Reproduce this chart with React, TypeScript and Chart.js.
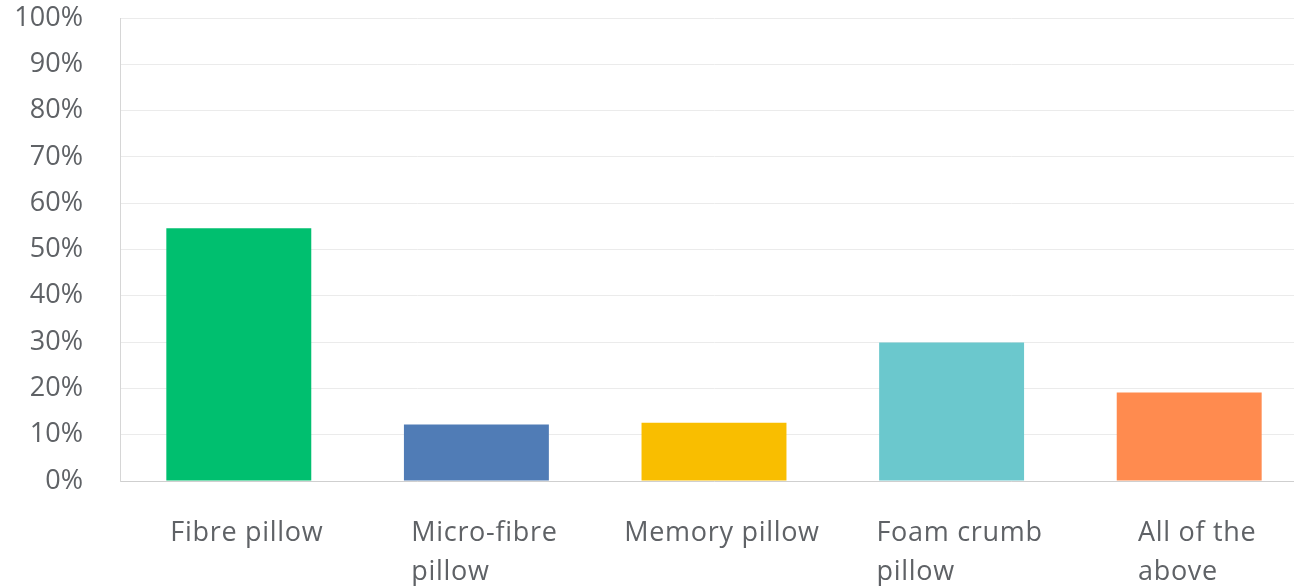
import React, { useEffect, useRef } from "react";
import { Chart, registerables } from "chart.js";

Chart.register(...registerables);

const categories: string[][] = [
  ["Fibre pillow"],
  ["Micro-fibre", "pillow"],
  ["Memory pillow"],
  ["Foam crumb", "pillow"],
  ["All of the", "above"],
];
const values: number[] = [54.6, 12.2, 12.6, 29.9, 19.1];
const barColors: string[] = ["#00bf6f", "#507cb6", "#f9be00", "#6bc8cd", "#ff8b4f"];
const yTicks: number[] = [0, 10, 20, 30, 40, 50, 60, 70, 80, 90, 100];

const FONT = "'Open Sans', sans-serif";
const TEXT = "#5f6266";

const labelPlugin = {
  id: "wrappedLabels",
  afterDraw(chart: any) {
    const ctx = chart.ctx;
    const x = chart.scales.x;
    ctx.save();
    ctx.font = `27px ${FONT}`;
    ctx.fillStyle = TEXT;
    ctx.textAlign = "left";
    ctx.textBaseline = "alphabetic";
    try { (ctx as any).letterSpacing = "0.7px"; } catch (e) {}
    categories.forEach((lines, i) => {
      const c = x.getPixelForValue(i);
      const w = Math.max(...lines.map((l) => ctx.measureText(l).width));
      const left = c + 8 - w / 2;
      lines.forEach((l, j) => {
        ctx.fillText(l, left, 541 + j * 39);
      });
    });
    ctx.restore();
  },
};

export default function App() {
  const ref = useRef<HTMLCanvasElement>(null);
  useEffect(() => {
    if (!ref.current) return;
    const chart = new Chart(ref.current, {
      type: "bar",
      data: {
        labels: categories.map((c) => c.join(" ")),
        datasets: [
          {
            data: values,
            backgroundColor: barColors,
            borderWidth: 0,
            barPercentage: 0.61,
            categoryPercentage: 1,
          },
        ],
      },
      options: {
        responsive: false,
        animation: false,
        layout: { padding: { top: 18, left: 0, right: 0, bottom: 0 } },
        plugins: { legend: { display: false }, tooltip: { enabled: false } },
        scales: {
          x: {
            grid: { display: false, drawTicks: false },
            border: { display: true, color: "#cfcfcf", width: 1 },
            ticks: { display: false },
            afterFit(scale: any) {
              scale.height = 105;
              scale.paddingLeft = 0;
              scale.paddingRight = 0;
            },
          },
          y: {
            min: 0,
            max: 100,
            afterBuildTicks(scale: any) {
              scale.ticks = yTicks.map((v) => ({ value: v }));
            },
            grid: { color: "#ebebeb", lineWidth: 1, drawTicks: false },
            border: { display: true, color: "#d6d6d6", width: 1 },
            ticks: {
              padding: 37,
              color: TEXT,
              font: { family: FONT, size: 27 },
              callback: (v: any) => `${v}%`,
            },
            afterFit(scale: any) {
              scale.width = 120;
              scale.paddingTop = 0;
              scale.paddingBottom = 0;
            },
          },
        },
      },
      plugins: [labelPlugin],
    });
    return () => chart.destroy();
  }, []);
  return (
    <div style={{ position: "fixed", left: 0, top: 0, width: 1294, height: 586, overflow: "hidden", background: "#fff" }}>
      <canvas ref={ref} width={1308} height={586} style={{ display: "block" }} />
    </div>
  );
}
